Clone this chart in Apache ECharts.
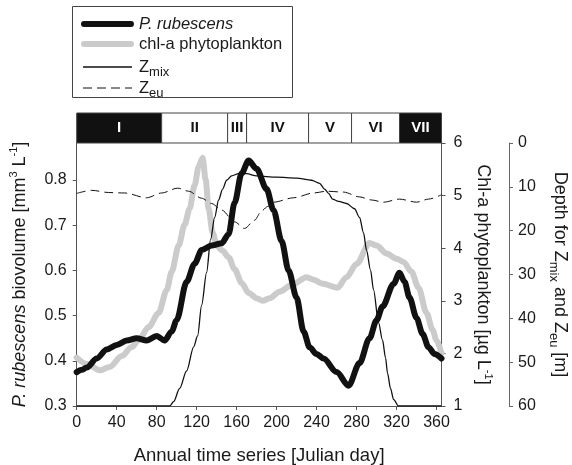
<!DOCTYPE html>
<html>
<head>
<meta charset="utf-8">
<script src="https://cdn.jsdelivr.net/npm/echarts@6/dist/echarts.min.js"></script>
<style>
html,body{margin:0;padding:0;background:#fff;}
#chart{width:572px;height:465px;}
</style>
</head>
<body>
<div id="chart"></div>
<script>
// ---- data ----
const rubDays = [0,5,10,20,30,40,50,60,70,80,88,95,100,110,118,125,135,145,152,158,165,172,180,190,197,205,212,220,227,233,240,247,260,272,283,293,300,306,317,323,328,333,340,346,352,358,365];
const rubVals = [0.375,0.38,0.385,0.405,0.425,0.435,0.445,0.45,0.445,0.455,0.445,0.465,0.49,0.575,0.615,0.645,0.655,0.66,0.68,0.75,0.815,0.843,0.825,0.78,0.733,0.665,0.6,0.54,0.465,0.43,0.415,0.405,0.375,0.345,0.395,0.45,0.49,0.52,0.57,0.595,0.575,0.54,0.495,0.46,0.43,0.415,0.405];

const chlDays = [0,10,23,33,45,55,62,72,82,90,95,102,108,113,118,122,126,129,132,136,140,146,152,158,165,172,180,186,193,203,215,230,237,245,261,270,280,293,300,310,320,327,335,342,350,356,360,365];
const chlVals = [1.92,1.8,1.68,1.74,1.95,2.12,2.25,2.5,2.77,3.2,3.55,4.05,4.45,4.75,5.2,5.55,5.72,5.3,4.75,4.3,4.05,3.95,3.83,3.6,3.34,3.15,3.05,3.0,3.05,3.17,3.3,3.45,3.4,3.33,3.25,3.45,3.7,4.1,4.05,3.9,3.8,3.74,3.55,3.25,2.77,2.45,2.25,2.0];

const mixDays = [0,93,97,103,110,117,121,125,130,134,138,142,146,150,155,162,170,180,200,220,235,243,248,252,256,262,270,278,283,287,290,294,297,302,306,309,311,314,317,322,365];
const mixDepth = [60,60,59,56,52,46.5,44,37,29.5,22,17,13,10.5,8.5,7.5,7,7,7.5,7.8,8,8.5,9.2,10.5,11.5,12.8,13.3,13.8,15,17,20.5,24.5,29,33.5,41,45,49,52.5,56,58.5,60,60];

const euDays = [0,15,32,48,70,85,101,112,125,135,145,158,168,178,185,191,197,217,237,250,267,283,295,307,323,340,352,365];
const euDepth = [11.5,10.8,11.3,11.4,12.5,11.4,10.3,11,12.6,13.8,15.3,18,19.5,17.6,15.5,14.5,13.5,12.5,11.4,11,11.2,12.3,13,13.5,12.8,13.5,12.8,11.8];

const phaseNames = ['I','II','III','IV','V','VI','VII'];
const phaseStart = [0,85,151,170,232,275,323];
const phaseEnd = [85,151,170,232,275,323,365];
const phaseDark = [true,false,false,false,false,false,true];

const xTicks = [0,40,80,120,160,200,240,280,320,360];
const leftTicks = [0.3,0.4,0.5,0.6,0.7,0.8];

// ---- chart ----
const FONT = 'Liberation Sans, Arial, Helvetica, sans-serif';
const zip = (a,b) => a.map((v,i)=>[v,b[i]]);
const axisCol = '#555';
const txtCol = '#1a1a1a';

const chart = echarts.init(document.getElementById('chart'), null, {renderer:'canvas'});

const grid0 = {left:76.7, right:130.5, top:143, bottom:59};
const option = {
  animation:false,
  backgroundColor:'#fff',
  textStyle:{fontFamily:FONT},
  grid:[
    {left:grid0.left, right:grid0.right, top:grid0.top, bottom:grid0.bottom, outerBoundsMode:'none', containLabel:false},
    {left:grid0.left, right:grid0.right, top:113, height:30, outerBoundsMode:'none', containLabel:false}
  ],
  xAxis:[
    {type:'value', gridIndex:0, min:0, max:365,
     axisLine:{show:true, onZero:false, lineStyle:{color:axisCol, width:1}},
     axisTick:{show:true, length:4, customValues:xTicks, lineStyle:{color:axisCol}},
     axisLabel:{customValues:xTicks, fontSize:16, color:txtCol, margin:9, fontFamily:FONT},
     splitLine:{show:false},
     name:'Annual time series [Julian day]', nameLocation:'middle', nameGap:40,
     nameTextStyle:{fontSize:18.5, color:txtCol, fontFamily:FONT}},
    {type:'value', gridIndex:1, min:0, max:365, show:false}
  ],
  yAxis:[
    {type:'value', gridIndex:0, min:0.3, max:0.882, position:'left',
     axisLine:{show:true, onZero:false, lineStyle:{color:axisCol}},
     axisTick:{show:true, length:4, customValues:leftTicks, lineStyle:{color:axisCol}},
     axisLabel:{customValues:leftTicks, formatter:v=>v.toFixed(1), fontSize:16, color:txtCol, margin:10, fontFamily:FONT},
     splitLine:{show:false},
     name:'{i|P. rubescens} biovolume [mm{sup|3} L{sup|-1}]', nameLocation:'middle', nameGap:46, nameRotate:90,
     nameTextStyle:{fontSize:18, color:txtCol, fontFamily:FONT,
       rich:{i:{fontStyle:'italic', fontSize:18, color:txtCol, fontFamily:FONT},
             sup:{fontSize:11, verticalAlign:'top', color:txtCol, fontFamily:FONT, lineHeight:22}}}},
    {type:'value', gridIndex:0, min:1, max:6, interval:1, position:'right',
     axisLine:{show:true, onZero:false, lineStyle:{color:axisCol}},
     axisTick:{show:true, length:4, lineStyle:{color:axisCol}},
     axisLabel:{fontSize:16, color:txtCol, margin:12, fontFamily:FONT},
     splitLine:{show:false},
     name:'Chl-a phytoplankton [µg L{sup|-1}]', nameLocation:'middle', nameGap:30, nameRotate:-90,
     nameTextStyle:{fontSize:18, color:txtCol, fontFamily:FONT,
       rich:{sup:{fontSize:11, verticalAlign:'top', color:txtCol, fontFamily:FONT, lineHeight:22}}}},
    {type:'value', gridIndex:0, min:0, max:60, interval:10, inverse:true, position:'right', offset:67.5,
     axisLine:{show:true, onZero:false, lineStyle:{color:'#666'}},
     axisTick:{show:true, length:4, lineStyle:{color:'#666'}},
     axisLabel:{fontSize:16, color:txtCol, margin:9, fontFamily:FONT},
     splitLine:{show:false},
     name:'Depth for Z{sub|mix} and Z{sub|eu} [m]', nameLocation:'middle', nameGap:37, nameRotate:-90,
     nameTextStyle:{fontSize:18, color:txtCol, fontFamily:FONT,
       rich:{sub:{fontSize:13, verticalAlign:'bottom', color:txtCol, fontFamily:FONT, lineHeight:26}}}},
    {type:'value', gridIndex:1, min:0, max:1, show:false}
  ],
  series:[
    {name:'chl-a phytoplankton', type:'line', xAxisIndex:0, yAxisIndex:1, data:zip(chlDays,chlVals),
     showSymbol:false, smooth:0.3, smoothMonotone:'x', lineStyle:{color:'#cbcbcb', width:6, cap:'round', join:'round'}, z:2},
    {name:'Zeu', type:'line', xAxisIndex:0, yAxisIndex:2, data:zip(euDays,euDepth),
     showSymbol:false, smooth:0.3, smoothMonotone:'x', lineStyle:{color:'#111', width:1, type:[9,5]}, z:3},
    {name:'Zmix', type:'line', xAxisIndex:0, yAxisIndex:2, data:zip(mixDays,mixDepth),
     showSymbol:false, smooth:0.3, smoothMonotone:'x', lineStyle:{color:'#111', width:1.3}, z:3},
    {name:'P. rubescens', type:'line', xAxisIndex:0, yAxisIndex:0, data:zip(rubDays,rubVals),
     showSymbol:false, smooth:0.3, smoothMonotone:'x', lineStyle:{color:'#111', width:6, cap:'round', join:'round'}, z:4},
    {name:'phases', type:'custom', xAxisIndex:1, yAxisIndex:3,
     data:phaseNames.map((n,i)=>[phaseStart[i], phaseEnd[i], i]),
     renderItem:function(params, api){
       const i = api.value(2);
       const p0 = api.coord([api.value(0), 1]);
       const p1 = api.coord([api.value(1), 0]);
       const dark = phaseDark[i];
       return {type:'group', children:[
         {type:'rect', shape:{x:p0[0], y:p0[1], width:p1[0]-p0[0], height:p1[1]-p0[1]},
          style:{fill: dark ? '#111' : '#fff', stroke:'#444', lineWidth:1}},
         {type:'text', style:{text:phaseNames[i], x:(p0[0]+p1[0])/2, y:(p0[1]+p1[1])/2,
          align:'center', verticalAlign:'middle', fill: dark ? '#fff' : '#111',
          fontSize:15, fontWeight:'bold', fontFamily:FONT}}
       ]};
     }, z:5}
  ],
  graphic:[
    {type:'rect', shape:{x:72.5, y:6.5, width:220, height:91}, style:{fill:'#fff', stroke:'#444', lineWidth:1}, z:10},
    {type:'line', shape:{x1:84, y1:24, x2:131, y2:24}, style:{stroke:'#111', lineWidth:6, lineCap:'round'}, z:11},
    {type:'line', shape:{x1:84, y1:44, x2:131, y2:44}, style:{stroke:'#cbcbcb', lineWidth:6, lineCap:'round'}, z:11},
    {type:'line', shape:{x1:83, y1:67, x2:132, y2:67}, style:{stroke:'#111', lineWidth:1.3}, z:11},
    {type:'line', shape:{x1:83, y1:88, x2:132, y2:88}, style:{stroke:'#111', lineWidth:1, lineDash:[9,5]}, z:11},
    {type:'text', style:{text:'P. rubescens', x:139, y:24, verticalAlign:'middle', fill:txtCol, fontSize:16.5, fontStyle:'italic', fontFamily:FONT}, z:11},
    {type:'text', style:{text:'chl-a phytoplankton', x:139, y:44, verticalAlign:'middle', fill:txtCol, fontSize:16.5, fontFamily:FONT}, z:11},
    {type:'text', style:{text:'Z{sub|mix}', x:139, y:67, verticalAlign:'middle', fill:txtCol, fontSize:16.5, fontFamily:FONT,
      rich:{sub:{fontSize:13, verticalAlign:'bottom', lineHeight:24, fill:txtCol, fontFamily:FONT}}}, z:11},
    {type:'text', style:{text:'Z{sub|eu}', x:139, y:88, verticalAlign:'middle', fill:txtCol, fontSize:16.5, fontFamily:FONT,
      rich:{sub:{fontSize:13, verticalAlign:'bottom', lineHeight:24, fill:txtCol, fontFamily:FONT}}}, z:11}
  ]
};
chart.setOption(option);
</script>
</body>
</html>
